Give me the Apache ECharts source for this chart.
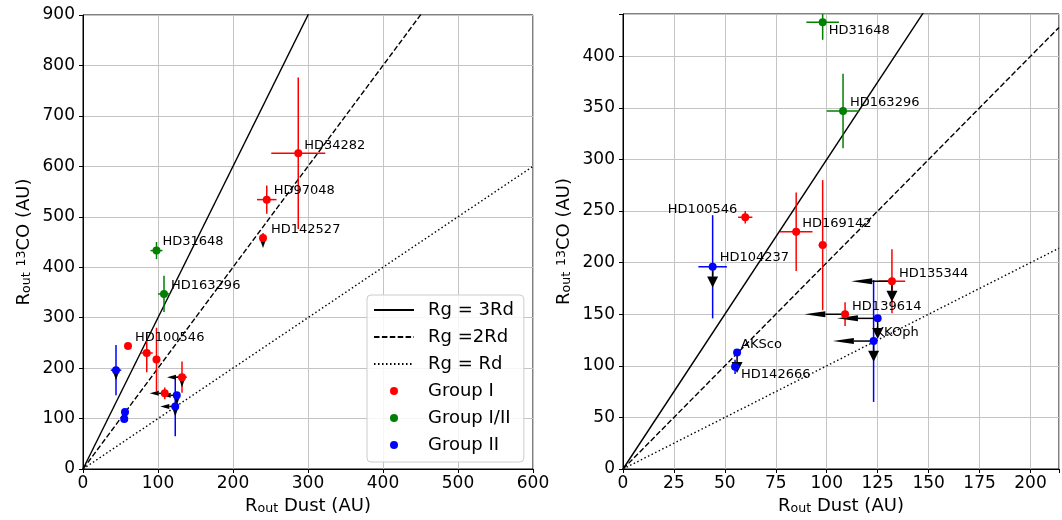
<!DOCTYPE html>
<html><head><meta charset="utf-8">
<script src="https://cdn.jsdelivr.net/npm/echarts@6/dist/echarts.min.js"></script>
<style>html,body{margin:0;padding:0;background:#fff}#c{width:1062px;height:520px}</style>
</head><body><div id="c"></div>
<script>
// ---------------- data ----------------
const groupNames = ['Group I', 'Group I/II', 'Group II'];
const lineNames = ['Rg = 3Rd', 'Rg =2Rd', 'Rg = Rd'];
const lineRatios = [3, 2, 1];
const starNames = ['HD34282','HD97048','HD142527','HD100546','HD169142','','HD135344','HD139614','HD31648','HD163296','HD104237','','KKOph','AKSco','HD142666'];
const starGroup = [0,0,0,0,0,0,0,0,1,1,2,2,2,2,2];
const rDust     = [287,245,240,60,85,98,132,109,98,108,44,125,123,56,55];
const rGas      = [626,534,458,244,230,217,182,150,433,347,196,146,124,113,99];
const rDustErr  = [36,13,4,3.5,8,2,6.5,1.5,8,8,7,0,0,0,1];
const rGasErr   = [150,28,10,6,38,63,31,11.5,17,36,50,0,59,0,7];
const dustUpperLimit = [0,0,0,0,0,0,1,1,0,0,0,1,1,0,0];
const gasUpperLimit  = [0,0,1,0,0,0,1,0,0,0,1,1,1,1,0];
const limitArrowLength = 20;
const xTicksLeft = [0,100,200,300,400,500,600];
const yTicksLeft = [0,100,200,300,400,500,600,700,800,900];
const xTicksRight = [0,25,50,75,100,125,150,175,200];
const yTicksRight = [0,50,100,150,200,250,300,350,400];

// ---------------- style / layout ----------------
const FONT = 'DejaVu Sans';
const groupColors = ['#ff0000', '#008000', '#0000ff'];
const lineDash = ['solid', [5.5, 2.4], [1.5, 2.5]];

const panels = [
  { grid: {left: 83, top: 15, width: 450, height: 457}, xMax: 600, yMax: 900,
    xTicks: xTicksLeft, yTicks: yTicksLeft,
    xHeadLen: 9, xHeadHalf: 2.5, yHeadLen: 8, yHeadHalf: 2.8,
    labels: {HD34282:[6,-8], HD97048:[7,-9], HD142527:[8,-8], HD31648:[6,-9], HD163296:[7,-8], HD100546:[7,-8]} },
  { grid: {left: 623, top: 14, width: 439, height: 458}, xMax: 214, yMax: 441,
    xTicks: xTicksRight, yTicks: yTicksRight,
    xHeadLen: 21, xHeadHalf: 3, yHeadLen: 11, yHeadHalf: 5.5,
    labels: {HD31648:[6,8], HD163296:[7,-8], HD100546:[-8,-8,'right'], HD104237:[7,-9], HD169142:[6,-8],
             HD135344:[7,-8], HD139614:[7,-8], KKOph:[2,-8], AKSco:[4,-8], HD142666:[6,8]} }
];

const nameStyle = {
  fontFamily: FONT, fontSize: 18, color: '#000', lineHeight: 18,
  rich: {
    sub: {fontFamily: FONT, fontSize: 12.6, lineHeight: 6, verticalAlign: 'bottom', color: '#000'},
    sup: {fontFamily: FONT, fontSize: 12.6, lineHeight: 6, verticalAlign: 'top', color: '#000'}
  }
};

function tickFormatter(ticks) {
  return v => ticks.some(t => Math.abs(t - v) < 1e-6) ? String(v) : '';
}

const grids = [], xAxes = [], yAxes = [], series = [];

panels.forEach((p, pi) => {
  grids.push(Object.assign({show: true, borderColor: '#000', borderWidth: 1, containLabel: false}, p.grid));
  const common = {
    gridIndex: pi, type: 'value', min: 0,
    axisLine: {show: true, onZero: false, lineStyle: {color: '#000', width: 1}},
    axisTick: {show: true, length: 4, lineStyle: {color: '#000'}},
    splitLine: {show: true, lineStyle: {color: '#c4c4c4', width: 1}},
    nameLocation: 'middle', nameTextStyle: nameStyle
  };
  xAxes.push(Object.assign({}, common, {
    max: p.xMax, interval: p.xTicks[1] - p.xTicks[0],
    axisLabel: {fontFamily: FONT, fontSize: 17, color: '#000', margin: 6, formatter: tickFormatter(p.xTicks)},
    name: 'R{sub|out} Dust (AU)', nameGap: 28
  }));
  yAxes.push(Object.assign({}, common, {
    max: p.yMax, interval: p.yTicks[1] - p.yTicks[0],
    axisLabel: {fontFamily: FONT, fontSize: 17, color: '#000', margin: 8, formatter: tickFormatter(p.yTicks)},
    name: 'R{sub|out} {sup|13}CO (AU)', nameGap: 50, nameRotate: 90
  }));

  // ratio lines
  lineRatios.forEach((k, i) => {
    series.push({
      type: 'line', name: lineNames[i], xAxisIndex: pi, yAxisIndex: pi,
      data: [[0, 0], [p.xMax, k * p.xMax]], symbol: 'none', clip: true, silent: true,
      itemStyle: {color: 'rgba(0,0,0,0)', opacity: 0},
      lineStyle: {color: '#000', width: 1.4, type: lineDash[i]}, z: 2
    });
  });

  const idx = starNames.map((_, i) => i);
  // error bars
  series.push({
    type: 'custom', xAxisIndex: pi, yAxisIndex: pi, clip: true, silent: true, z: 3,
    data: idx.map(i => [rDust[i], rGas[i], rDustErr[i], rGasErr[i], starGroup[i]]),
    encode: {x: 0, y: 1},
    renderItem: (params, api) => {
      const x = api.value(0), y = api.value(1), xe = api.value(2), ye = api.value(3);
      const col = groupColors[api.value(4)];
      const ch = [];
      if (xe > 0) {
        const a = api.coord([x - xe, y]), b = api.coord([x + xe, y]);
        ch.push({type: 'line', shape: {x1: a[0], y1: a[1], x2: b[0], y2: b[1]}, style: {stroke: col, lineWidth: 1.5}});
      }
      if (ye > 0) {
        const a = api.coord([x, y - ye]), b = api.coord([x, y + ye]);
        ch.push({type: 'line', shape: {x1: a[0], y1: a[1], x2: b[0], y2: b[1]}, style: {stroke: col, lineWidth: 1.5}});
      }
      return {type: 'group', children: ch};
    }
  });
  // limit arrows
  series.push({
    type: 'custom', xAxisIndex: pi, yAxisIndex: pi, clip: true, silent: true, z: 4,
    data: idx.map(i => [rDust[i], rGas[i], dustUpperLimit[i], gasUpperLimit[i]]),
    encode: {x: 0, y: 1},
    renderItem: (params, api) => {
      const x = api.value(0), y = api.value(1);
      const o = api.coord([x, y]);
      const ch = [];
      if (api.value(2)) {
        const t = api.coord([x - limitArrowLength, y]);
        ch.push({type: 'line', shape: {x1: o[0], y1: o[1], x2: t[0] + p.xHeadLen, y2: t[1]}, style: {stroke: '#000', lineWidth: 1.5}});
        ch.push({type: 'polygon', shape: {points: [[t[0], t[1]], [t[0] + p.xHeadLen, t[1] - p.xHeadHalf], [t[0] + p.xHeadLen, t[1] + p.xHeadHalf]]}, style: {fill: '#000'}});
      }
      if (api.value(3)) {
        const t = api.coord([x, y - limitArrowLength]);
        ch.push({type: 'line', shape: {x1: o[0], y1: o[1], x2: t[0], y2: t[1] - p.yHeadLen}, style: {stroke: '#000', lineWidth: 1.5}});
        ch.push({type: 'polygon', shape: {points: [[t[0], t[1]], [t[0] - p.yHeadHalf, t[1] - p.yHeadLen], [t[0] + p.yHeadHalf, t[1] - p.yHeadLen]]}, style: {fill: '#000'}});
      }
      return {type: 'group', children: ch};
    }
  });
  // markers per group
  groupNames.forEach((gname, g) => {
    const data = idx.filter(i => starGroup[i] === g).map(i => {
      const lab = p.labels[starNames[i]];
      return {
        value: [rDust[i], rGas[i]],
        label: lab ? {show: true, formatter: starNames[i], position: 'inside', align: lab[2] || 'left',
          verticalAlign: 'middle', offset: [lab[0], lab[1]], fontFamily: FONT, fontSize: 13, color: '#000'} : {show: false}
      };
    });
    series.push({
      type: 'scatter', name: gname, xAxisIndex: pi, yAxisIndex: pi, clip: true, silent: true,
      symbol: 'circle', symbolSize: 8, itemStyle: {color: groupColors[g], opacity: 1}, z: 5,
      data
    });
  });
});

const legendData = lineNames.map(n => ({name: n, itemStyle: {color: 'rgba(0,0,0,0)', opacity: 0, borderWidth: 0}}))
  .concat(groupNames.map(n => ({name: n})));

const chart = echarts.init(document.getElementById('c'), null, {renderer: 'canvas'});
chart.setOption({
  animation: false,
  backgroundColor: '#fff',
  grid: grids, xAxis: xAxes, yAxis: yAxes,
  legend: {
    orient: 'vertical', left: 367, top: 295, padding: [5, 10, 7, 6], itemGap: 7,
    itemWidth: 40, itemHeight: 8, data: legendData,
    backgroundColor: 'rgba(255,255,255,0.85)', borderColor: '#cccccc', borderWidth: 1, borderRadius: 4,
    textStyle: {fontFamily: FONT, fontSize: 18, color: '#000', lineHeight: 20, padding: [0, 0, 0, 9]},
    selectedMode: false
  },
  series
});
</script></body></html>
